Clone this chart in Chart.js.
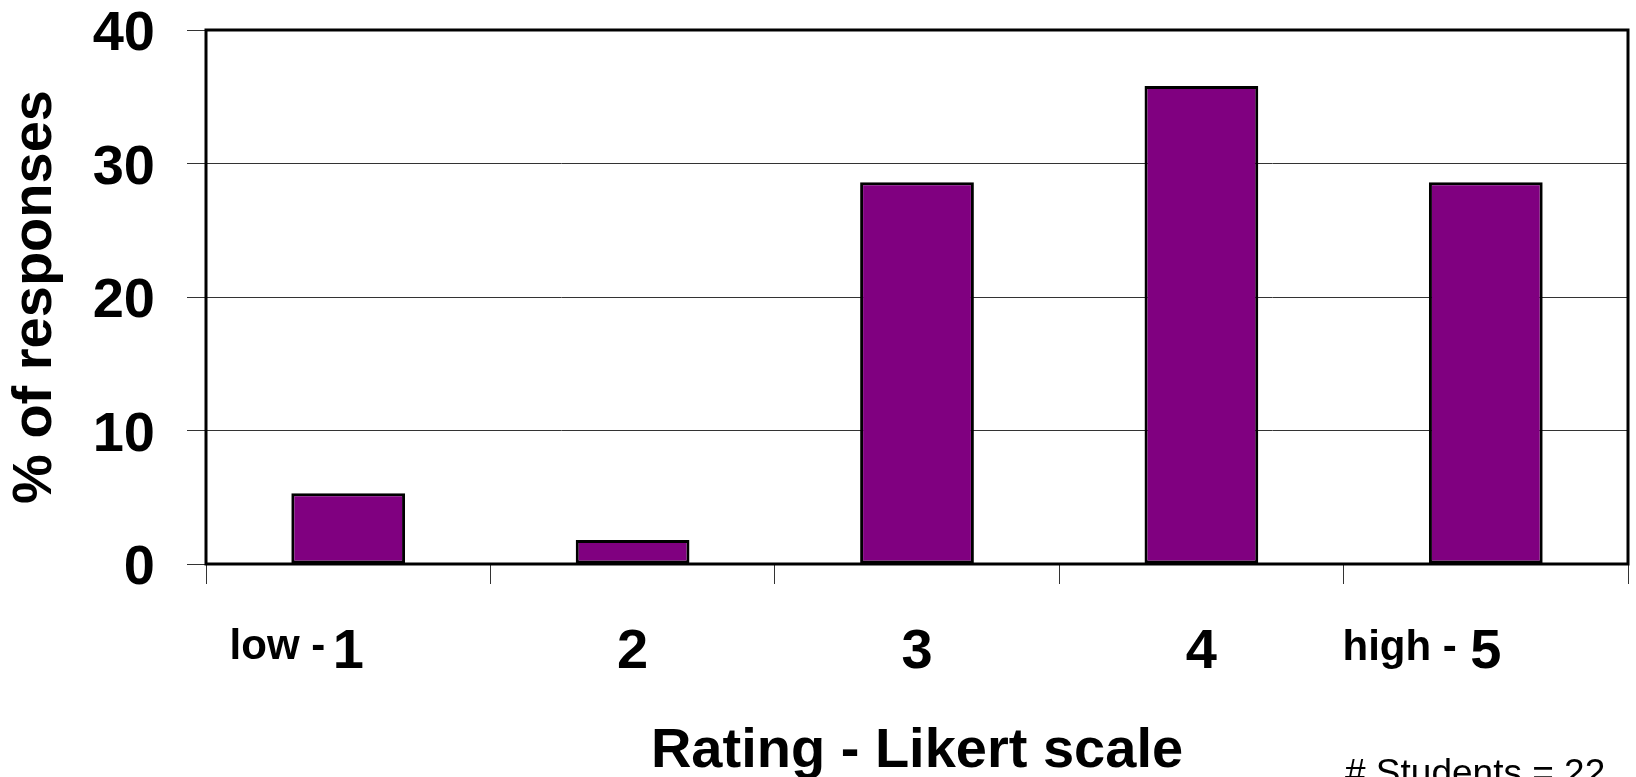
<!DOCTYPE html>
<html>
<head>
<meta charset="utf-8">
<script src="https://cdn.jsdelivr.net/npm/chart.js@4/dist/chart.umd.min.js"></script>
<style>
  html, body { margin: 0; padding: 0; background: #fff; }
  #wrap { width: 1636px; height: 777px; position: relative; overflow: hidden; }
</style>
</head>
<body>
<div id="wrap"><canvas id="c" width="1636" height="777"></canvas></div>
<script>
// Likert ratings and share of responses (%)
const ratings = ['1', '2', '3', '4', '5'];
const percentResponses = [5.3, 1.8, 28.6, 35.8, 28.6];
const yTickValues = [0, 10, 20, 30, 40];

const xTitle = 'Rating - Likert scale';
const yTitle = '% of responses';
const lowLabel = 'low -';
const highLabel = 'high -';
const studentNote = '# Students = 22';

const FONT = '"Liberation Sans", Arial, Helvetica, sans-serif';

// Black frame around the plotting area
const framePlugin = {
  id: 'frame',
  afterDatasetsDraw(chart) {
    const { ctx, chartArea: { left, top, right, bottom } } = chart;
    ctx.save();
    ctx.strokeStyle = '#000';
    ctx.lineWidth = 3;
    ctx.strokeRect(left, top, right - left, bottom - top);
    ctx.restore();
  }
};

// End-point captions next to the first and last rating, plus sample size
const notesPlugin = {
  id: 'notes',
  afterDraw(chart) {
    const { ctx, chartArea } = chart;
    const x = chart.scales.x;
    ctx.save();
    ctx.fillStyle = '#000';
    ctx.textBaseline = 'alphabetic';
    ctx.font = 'bold 42px ' + FONT;
    ctx.textAlign = 'right';
    ctx.fillText(lowLabel, x.getPixelForValue(0) - 23, chartArea.bottom + 95);
    ctx.fillText(highLabel, x.getPixelForValue(4) - 29, chartArea.bottom + 96);
    ctx.font = '37px ' + FONT;
    ctx.textAlign = 'left';
    ctx.fillText(studentNote, 1345, 785);
    ctx.restore();
  }
};

new Chart(document.getElementById('c'), {
  type: 'bar',
  data: {
    labels: ratings,
    datasets: [{
      data: percentResponses,
      backgroundColor: '#800080',
      borderColor: '#000',
      borderWidth: 3,
      borderSkipped: false,
      barPercentage: 0.4,
      categoryPercentage: 1.0
    }]
  },
  options: {
    responsive: false,
    animation: false,
    events: [],
    layout: { padding: { left: 0, right: 8, top: 30, bottom: 0 } },
    plugins: {
      legend: { display: false },
      tooltip: { enabled: false }
    },
    scales: {
      x: {
        afterFit(scale) {
          scale.height = 213;
          scale.paddingLeft = 0;
          scale.paddingRight = 0;
        },
        grid: {
          offset: true,
          drawOnChartArea: false,
          drawTicks: true,
          tickLength: 20,
          color: '#333',
          lineWidth: 1
        },
        border: { display: false },
        ticks: {
          color: '#000',
          padding: 41,
          font: { family: FONT, size: 56, weight: 'bold', lineHeight: 1 }
        },
        title: {
          display: true,
          text: xTitle,
          color: '#000',
          padding: { top: 0, bottom: -3 },
          font: { family: FONT, size: 56, weight: 'bold', lineHeight: 1 }
        }
      },
      y: {
        min: 0,
        max: 40,
        afterFit(scale) {
          scale.width = 206;
          scale.paddingTop = 0;
          scale.paddingBottom = 0;
        },
        afterBuildTicks(scale) { scale.ticks = yTickValues.map(v => ({ value: v })); },
        grid: {
          drawOnChartArea: true,
          drawTicks: true,
          tickLength: 19,
          color: '#333',
          lineWidth: 1
        },
        border: { display: false },
        ticks: {
          color: '#000',
          padding: 32,
          labelOffset: 5,
          font: { family: FONT, size: 56, weight: 'bold', lineHeight: 1 }
        },
        title: {
          display: true,
          text: yTitle,
          color: '#000',
          padding: { top: 8, bottom: 0 },
          font: { family: FONT, size: 56, weight: 'bold', lineHeight: 1 }
        }
      }
    }
  },
  plugins: [framePlugin, notesPlugin]
});
</script>
</body>
</html>
